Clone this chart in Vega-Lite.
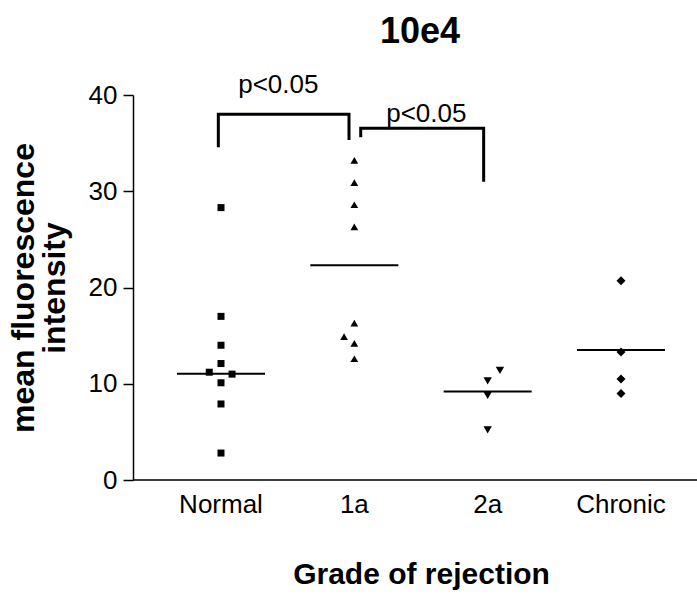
{
  "$schema": "https://vega.github.io/schema/vega-lite/v6.json",
  "width": 564,
  "height": 385,
  "autosize": {"type": "none"},
  "padding": {"left": 133, "top": 95, "right": 0, "bottom": 115},
  "background": "white",
  "config": {"view": {"stroke": null}, "font": "Liberation Sans"},
  "title": {"text": "10e4", "fontSize": 36, "fontWeight": "bold", "color": "black", "anchor": "middle", "frame": "group", "offset": 21, "dx": 5},
  "datasets": {
    "points": [
      {"grade": "Normal", "value": 28.3, "dx": 0},
      {"grade": "Normal", "value": 17.0, "dx": 0},
      {"grade": "Normal", "value": 14.0, "dx": 0},
      {"grade": "Normal", "value": 12.1, "dx": 0},
      {"grade": "Normal", "value": 11.2, "dx": -0.088},
      {"grade": "Normal", "value": 11.0, "dx": 0.083},
      {"grade": "Normal", "value": 10.1, "dx": 0},
      {"grade": "Normal", "value": 7.9, "dx": 0},
      {"grade": "Normal", "value": 2.8, "dx": 0},
      {"grade": "1a", "value": 33.2, "dx": 0},
      {"grade": "1a", "value": 30.9, "dx": 0},
      {"grade": "1a", "value": 28.6, "dx": 0},
      {"grade": "1a", "value": 26.3, "dx": 0},
      {"grade": "1a", "value": 16.3, "dx": 0},
      {"grade": "1a", "value": 14.9, "dx": -0.077},
      {"grade": "1a", "value": 14.2, "dx": 0},
      {"grade": "1a", "value": 12.6, "dx": 0},
      {"grade": "2a", "value": 11.4, "dx": 0.092},
      {"grade": "2a", "value": 10.3, "dx": 0},
      {"grade": "2a", "value": 8.8, "dx": 0},
      {"grade": "2a", "value": 5.2, "dx": 0},
      {"grade": "Chronic", "value": 20.7, "dx": 0},
      {"grade": "Chronic", "value": 13.3, "dx": 0},
      {"grade": "Chronic", "value": 10.5, "dx": 0},
      {"grade": "Chronic", "value": 9.0, "dx": 0}
    ],
    "medians": [
      {"grade": "Normal", "value": 11.05},
      {"grade": "1a", "value": 22.3},
      {"grade": "2a", "value": 9.2},
      {"grade": "Chronic", "value": 13.5}
    ],
    "brackets": [
      {"b": "A", "o": 1, "grade": "Normal", "dx": -0.02, "value": 34.56},
      {"b": "A", "o": 2, "grade": "Normal", "dx": -0.02, "value": 37.99},
      {"b": "A", "o": 3, "grade": "1a", "dx": -0.04, "value": 37.99},
      {"b": "A", "o": 4, "grade": "1a", "dx": -0.04, "value": 35.32},
      {"b": "B", "o": 1, "grade": "1a", "dx": 0.048, "value": 35.6},
      {"b": "B", "o": 2, "grade": "1a", "dx": 0.048, "value": 36.54},
      {"b": "B", "o": 3, "grade": "2a", "dx": -0.03, "value": 36.54},
      {"b": "B", "o": 4, "grade": "2a", "dx": -0.03, "value": 30.98}
    ],
    "labels": [
      {"grade": "Normal", "dx": 0.43, "value": 40.18, "label": "p<0.05"},
      {"grade": "1a", "dx": 0.54, "value": 37.22, "label": "p<0.05"}
    ],
    "baseline": [{"value": 0}]
  },
  "layer": [
    {
      "data": {"name": "baseline"},
      "mark": {"type": "rule", "color": "black", "strokeWidth": 1.5},
      "encoding": {
        "y": {"field": "value", "type": "quantitative", "scale": {"domain": [0, 40], "nice": false, "zero": true},
          "axis": {"title": ["mean fluorescence", "intensity"], "titleFontSize": 32, "titleFontWeight": "bold", "titleLineHeight": 31, "titlePadding": 17, "titleColor": "black", "labelFontSize": 26, "labelPadding": 6, "labelColor": "black", "tickSize": 10, "tickColor": "black", "tickWidth": 1.5, "domainColor": "black", "domainWidth": 1.5, "grid": false, "values": [0, 10, 20, 30, 40]}}
      }
    },
    {
      "data": {"name": "points"},
      "mark": {"type": "point", "filled": true, "color": "black", "opacity": 1},
      "encoding": {
        "x": {"field": "grade", "type": "nominal", "sort": ["Normal", "1a", "2a", "Chronic"],
          "scale": {"type": "band", "domain": ["Normal", "1a", "2a", "Chronic"], "range": [21.33, 554.67], "paddingInner": 0, "paddingOuter": 0},
          "axis": {"title": "Grade of rejection", "titleFontSize": 30, "titleFontWeight": "bold", "titlePadding": 42, "titleColor": "black", "labelFontSize": 26, "labelPadding": 11, "labelColor": "black", "labelAngle": 0, "ticks": false, "domain": false, "grid": false}},
        "xOffset": {"field": "dx", "type": "quantitative", "scale": {"domain": [-0.5, 0.5], "range": [0, 133.33]}},
        "y": {"field": "value", "type": "quantitative"},
        "shape": {"field": "grade", "type": "nominal", "scale": {"domain": ["Normal", "1a", "2a", "Chronic"], "range": ["square", "triangle-up", "triangle-down", "diamond"]}, "legend": null},
        "size": {"field": "grade", "type": "nominal", "scale": {"domain": ["Normal", "1a", "2a", "Chronic"], "range": [49, 81, 81, 64]}, "legend": null}
      }
    },
    {
      "data": {"name": "medians"},
      "mark": {"type": "tick", "color": "black", "size": 88, "thickness": 2, "orient": "horizontal", "opacity": 1},
      "encoding": {
        "x": {"field": "grade", "type": "nominal", "sort": ["Normal", "1a", "2a", "Chronic"]},
        "y": {"field": "value", "type": "quantitative"}
      }
    },
    {
      "data": {"name": "brackets"},
      "mark": {"type": "line", "color": "black", "strokeWidth": 3, "strokeJoin": "miter", "strokeCap": "butt"},
      "encoding": {
        "x": {"field": "grade", "type": "nominal", "sort": ["Normal", "1a", "2a", "Chronic"]},
        "xOffset": {"field": "dx", "type": "quantitative"},
        "y": {"field": "value", "type": "quantitative"},
        "detail": {"field": "b"},
        "order": {"field": "o", "type": "quantitative"}
      }
    },
    {
      "data": {"name": "labels"},
      "mark": {"type": "text", "color": "black", "fontSize": 26, "align": "center", "baseline": "alphabetic"},
      "encoding": {
        "x": {"field": "grade", "type": "nominal", "sort": ["Normal", "1a", "2a", "Chronic"]},
        "xOffset": {"field": "dx", "type": "quantitative"},
        "y": {"field": "value", "type": "quantitative"},
        "text": {"field": "label"}
      }
    }
  ]
}
